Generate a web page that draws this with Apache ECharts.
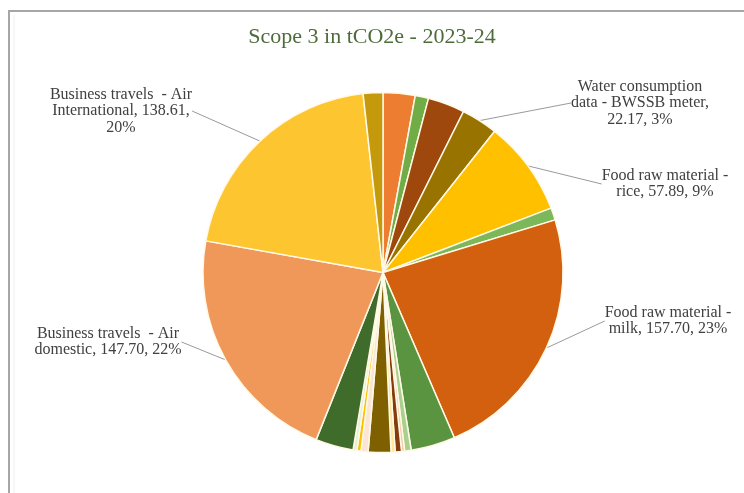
<!DOCTYPE html>
<html>
<head>
<meta charset="utf-8">
<script src="https://cdn.jsdelivr.net/npm/echarts@6/dist/echarts.min.js"></script>
<style>
  html, body { margin: 0; padding: 0; background: #ffffff; }
  #chart { width: 744px; height: 493px; }
</style>
</head>
<body>
<div id="chart"></div>
<script>
// Scope 3 emission sources, clockwise from 12 o'clock (tCO2e)
const categories = [
  'Other source 1', 'Other source 2', 'Other source 3',
  'Water consumption\ndata - BWSSB meter',
  'Food raw material -\nrice',
  'Other source 4',
  'Food raw material -\nmilk',
  'Other source 5', 'Other source 6', 'Other source 7', 'Other source 8',
  'Other source 9', 'Other source 10', 'Other source 11', 'Other source 12',
  'Other source 13', 'Other source 14',
  'Business travels  - Air\ndomestic',
  'Business travels  - Air\nInternational',
  'Other source 15'
];
const values = [
  19.5, 8.1, 22.5, 22.17, 57.89, 7.5, 157.70,
  27.0, 4.0, 1.9, 3.8, 2.5, 13.8, 4.3, 2.5, 2.3, 23.0,
  147.70, 138.61, 12.0
];
// Which slices carry a data label
const labelled = [
  'Water consumption\ndata - BWSSB meter',
  'Food raw material -\nrice',
  'Food raw material -\nmilk',
  'Business travels  - Air\ndomestic',
  'Business travels  - Air\nInternational'
];

const sliceColors = [
  '#ED7D31', '#70AD47', '#9E480E', '#997300', '#FFC000', '#7CB85A', '#D3600F',
  '#5A9440', '#A9D18E', '#F8CBAD', '#843C0C', '#FFE699', '#7F6000', '#FBE5D6',
  '#FFC000', '#E2F0D9', '#3F6B2B', '#F0975A', '#FDC630', '#C49A0C'
];

const total = values.reduce((a, b) => a + b, 0);

// Label placement and line-break style for each labelled slice
const labelPlacement = {
  'Business travels  - Air\nInternational': { x: 121, y: 111, breakBefore: 'percent' },
  'Water consumption\ndata - BWSSB meter': { x: 640, y: 103, breakBefore: 'value' },
  'Food raw material -\nrice': { x: 665, y: 184, breakBefore: null },
  'Food raw material -\nmilk': { x: 668, y: 321, breakBefore: null },
  'Business travels  - Air\ndomestic': { x: 108, y: 342, breakBefore: null }
};

const pieData = categories.map((name, i) => ({
  name: name,
  value: values[i],
  itemStyle: { color: sliceColors[i] },
  label: { show: labelled.includes(name) },
  labelLine: { show: labelled.includes(name) }
}));

const chart = echarts.init(document.getElementById('chart'), null, { renderer: 'canvas' });

chart.setOption({
  backgroundColor: '#ffffff',
  animation: false,
  title: {
    text: 'Scope 3 in tCO2e - 2023-24',
    left: 'center',
    top: 21,
    textStyle: {
      fontFamily: 'Liberation Serif',
      fontWeight: 'normal',
      fontSize: 22,
      color: '#4E6B3A'
    }
  },
  graphic: [
    { type: 'line', shape: { x1: 8, y1: 11, x2: 744, y2: 11 }, style: { stroke: '#A6A6A6', lineWidth: 2 } },
    { type: 'line', shape: { x1: 9, y1: 10, x2: 9, y2: 493 }, style: { stroke: '#A6A6A6', lineWidth: 2 } },
    { type: 'line', shape: { x1: 14, y1: 15, x2: 14, y2: 493 }, style: { stroke: '#EEEEEE', lineWidth: 1 } }
  ],
  series: [{
    type: 'pie',
    center: [383, 272.5],
    radius: 180,
    startAngle: 90,
    clockwise: true,
    avoidLabelOverlap: false,
    itemStyle: { borderColor: '#FFF9E6', borderWidth: 1.5 },
    label: {
      position: 'outside',
      fontFamily: 'Liberation Serif',
      fontSize: 16,
      lineHeight: 16.5,
      color: '#404040',
      align: 'center',
      formatter: function (p) {
        const place = labelPlacement[p.name] || {};
        const v = p.value.toFixed(2);
        const pct = Math.round(p.value / total * 100) + '%';
        if (place.breakBefore === 'value') return p.name + ',\n' + v + ', ' + pct;
        if (place.breakBefore === 'percent') return p.name + ', ' + v + ',\n' + pct;
        return p.name + ', ' + v + ', ' + pct;
      }
    },
    labelLine: {
      length: 15,
      length2: 0,
      lineStyle: { color: '#9A9A9A', width: 1 }
    },
    labelLayout: function (params) {
      const name = categories[params.dataIndex];
      const place = labelPlacement[name];
      if (!place) return {};
      return { x: place.x, y: place.y, align: 'center', verticalAlign: 'middle' };
    },
    data: pieData
  }]
});
</script>
</body>
</html>
